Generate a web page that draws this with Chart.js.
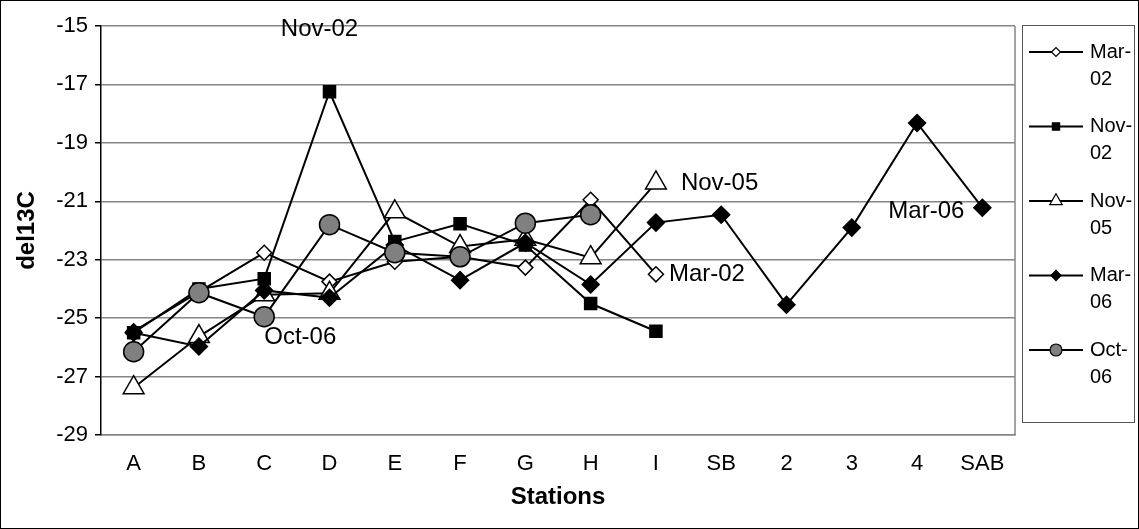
<!DOCTYPE html>
<html>
<head>
<meta charset="utf-8">
<title>del13C by station</title>
<script src="https://cdn.jsdelivr.net/npm/chart.js@4.4.1/dist/chart.umd.min.js"></script>
<style>
    html, body { margin: 0; padding: 0; background: #fff; }
    #wrap { position: relative; width: 1139px; height: 529px; }
</style>
</head>
<body>
<div id="wrap"><canvas id="chart"></canvas></div>
<script>
// Chart data
const stations = ['A', 'B', 'C', 'D', 'E', 'F', 'G', 'H', 'I', 'SB', '2', '3', '4', 'SAB'];
const yTicks = [-15, -17, -19, -21, -23, -25, -27, -29];

const mar02 = [-25.45, -24.1, -22.76, -23.75, -23.07, -22.9, -23.27, -20.95, -23.5, null, null, null, null, null];
const nov02 = [-25.5, -24.0, -23.65, -17.25, -22.38, -21.77, -22.5, -24.5, -25.45, null, null, null, null, null];
const nov05 = [-27.38, -25.63, -24.2, -24.15, -21.36, -22.55, -22.3, -22.93, -20.37, null, null, null, null, null];
const mar06 = [-25.5, -25.97, -24.05, -24.3, -22.5, -23.7, -22.42, -23.85, -21.73, -21.46, -24.54, -21.9, -18.32, -21.22];
const oct06 = [-26.15, -24.13, -24.95, -21.8, -22.76, -22.9, -21.75, -21.46, null, null, null, null, null, null];

const FONT = '"Liberation Sans", Arial, sans-serif';
const GRID = '#868686';

function series(label, data, style, order) {
    return {
        label: label,
        data: data,
        order: order,
        borderColor: '#000',
        borderWidth: 2,
        tension: 0,
        spanGaps: false,
        pointStyle: style.shape,
        pointRadius: style.radius,
        pointHoverRadius: style.radius,
        pointBackgroundColor: style.fill,
        pointBorderColor: '#000',
        pointBorderWidth: 1.5
    };
}

// Text tags placed next to one point of a series
const pointTags = [
    { dataset: 1, index: 3,  text: 'Nov-02', dx: -10, dy: -62, align: 'center' },
    { dataset: 2, index: 8,  text: 'Nov-05', dx: 25,  dy: 0,   align: 'left' },
    { dataset: 0, index: 8,  text: 'Mar-02', dx: 13,  dy: 0,   align: 'left' },
    { dataset: 3, index: 13, text: 'Mar-06', dx: -18, dy: 4,   align: 'right' },
    { dataset: 4, index: 2,  text: 'Oct-06', dx: 0,   dy: 21,  align: 'left' }
];

const framePlugin = {
    id: 'frame',
    beforeDraw(chart) {
        const ctx = chart.ctx;
        ctx.save();
        ctx.fillStyle = '#fff';
        ctx.fillRect(0, 0, chart.width, chart.height);
        ctx.restore();
    },
    afterDraw(chart) {
        const ctx = chart.ctx;
        const a = chart.chartArea;
        ctx.save();
        // right edge of the plot area
        ctx.strokeStyle = GRID;
        ctx.lineWidth = 1.5;
        ctx.beginPath();
        ctx.moveTo(a.right, a.top);
        ctx.lineTo(a.right, a.bottom);
        ctx.stroke();
        // outer frame
        ctx.strokeStyle = '#000';
        ctx.lineWidth = 1;
        ctx.strokeRect(0.5, 0.5, chart.width - 1, chart.height - 1);
        ctx.restore();
    }
};

const tagPlugin = {
    id: 'pointTags',
    afterDatasetsDraw(chart) {
        const ctx = chart.ctx;
        ctx.save();
        ctx.font = '24px ' + FONT;
        ctx.fillStyle = '#000';
        ctx.textBaseline = 'middle';
        pointTags.forEach(t => {
            const el = chart.getDatasetMeta(t.dataset).data[t.index];
            if (!el) return;
            ctx.textAlign = t.align;
            ctx.fillText(t.text, el.x + t.dx, el.y + t.dy);
        });
        ctx.restore();
    }
};

// Excel-like legend: boxed, labels wrapped after the dash
const legendPlugin = {
    id: 'boxLegend',
    afterDraw(chart) {
        const ctx = chart.ctx;
        const box = { x: 1022, y: 25, w: 112, h: 397 };
        ctx.save();
        ctx.strokeStyle = '#555';
        ctx.lineWidth = 1;
        ctx.strokeRect(box.x + 0.5, box.y + 0.5, box.w, box.h);
        ctx.font = '20px ' + FONT;
        ctx.fillStyle = '#000';
        ctx.textAlign = 'left';
        ctx.textBaseline = 'middle';
        chart.data.datasets.forEach((ds, i) => {
            const y = box.y + 27 + i * 74.5;
            ctx.strokeStyle = '#000';
            ctx.lineWidth = 2;
            ctx.beginPath();
            ctx.moveTo(box.x + 7, y);
            ctx.lineTo(box.x + 61, y);
            ctx.stroke();
            ctx.fillStyle = ds.pointBackgroundColor;
            ctx.strokeStyle = '#000';
            ctx.lineWidth = 1.2;
            const opts = { pointStyle: ds.pointStyle, radius: ds.pointRadius * 0.6, rotation: 0, borderWidth: 1.2 };
            if (Chart.helpers && Chart.helpers.drawPoint) {
                Chart.helpers.drawPoint(ctx, opts, box.x + 34, y);
            }
            const parts = ds.label.split('-');
            ctx.fillStyle = '#000';
            ctx.fillText(parts[0] + '-', box.x + 68, y);
            ctx.fillText(parts[1], box.x + 68, y + 27);
        });
        ctx.restore();
    }
};

const ctx = document.getElementById('chart');
new Chart(ctx, {
    type: 'line',
    data: {
        labels: stations,
        datasets: [
            series('Mar-02', mar02, { shape: 'rectRot', radius: 7.5, fill: '#fff' }, 5),
            series('Nov-02', nov02, { shape: 'rect', radius: 8.5, fill: '#000' }, 4),
            series('Nov-05', nov05, { shape: 'triangle', radius: 12, fill: '#fff' }, 3),
            series('Mar-06', mar06, { shape: 'rectRot', radius: 8.5, fill: '#000' }, 2),
            series('Oct-06', oct06, { shape: 'circle', radius: 10, fill: '#808080' }, 1)
        ]
    },
    options: {
        responsive: true,
        maintainAspectRatio: false,
        animation: false,
        layout: { padding: { top: 26, right: 124, bottom: 0, left: 0 } },
        plugins: {
            legend: { display: false },
            tooltip: { enabled: false }
        },
        scales: {
            x: {
                offset: true,
                grid: { display: false, drawTicks: false },
                border: { display: true, color: GRID, width: 1.5 },
                ticks: { color: '#000', font: { family: FONT, size: 22 }, padding: 16, maxRotation: 0, autoSkip: false },
                title: { display: true, text: 'Stations', color: '#000', font: { family: FONT, size: 24, weight: 'bold' }, padding: { top: 2, bottom: 17 } },
                afterFit(scale) { scale.height = 94; }
            },
            y: {
                min: -29,
                max: -15,
                afterBuildTicks(scale) { scale.ticks = yTicks.map(v => ({ value: v })); },
                grid: { color: GRID, lineWidth: 1.5, drawTicks: true, tickLength: 6, tickColor: '#000' },
                border: { display: true, color: '#000', width: 1.5 },
                ticks: { color: '#000', font: { family: FONT, size: 22 }, padding: 7 },
                title: { display: true, text: 'del13C', color: '#000', font: { family: FONT, size: 24, weight: 'bold' }, padding: { top: 13, bottom: 0 } },
                afterFit(scale) { scale.width = 101; }
            }
        }
    },
    plugins: [framePlugin, tagPlugin, legendPlugin]
});
</script>
</body>
</html>
